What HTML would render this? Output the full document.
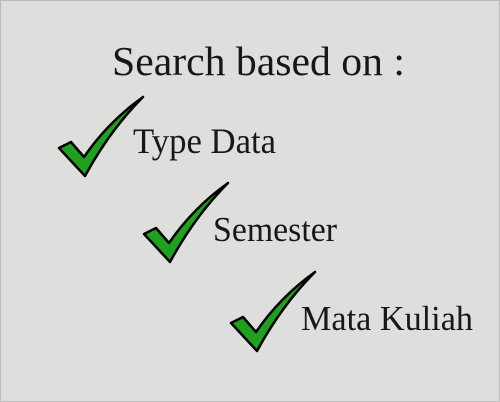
<!DOCTYPE html>
<html><head><style>
body{margin:0;width:500px;height:402px;overflow:hidden;background:#fff}
.bg{position:absolute;left:0;top:0;width:498px;height:400px;background:#dededd;border:1px solid #bbb}
svg{position:absolute;left:0;top:0}
</style></head><body>
<div class="bg"></div>
<svg width="500" height="402" font-family="Liberation Serif, serif" fill="#1a1616">
<defs><path id="c" d="M59,148 L71,142 L84,157 Q108,122 143,97 Q110,130 85,176 Z" fill="#1fa01f" stroke="#000" stroke-width="2.5" stroke-linejoin="round"/></defs>
<use href="#c"/>
<use href="#c" transform="translate(85,86)"/>
<use href="#c" transform="translate(172,175)"/>
<text x="112" y="75" font-size="41" textLength="293" lengthAdjust="spacingAndGlyphs" style="font-family:'Liberation Serif',serif">Search based on :</text>
<text x="133" y="153" font-size="36" textLength="143" lengthAdjust="spacingAndGlyphs" style="font-family:'Liberation Serif',serif">Type Data</text>
<text x="213" y="241" font-size="35" textLength="124" lengthAdjust="spacingAndGlyphs" style="font-family:'Liberation Serif',serif">Semester</text>
<text x="301" y="330" font-size="35" textLength="172" lengthAdjust="spacingAndGlyphs" style="font-family:'Liberation Serif',serif">Mata Kuliah</text>
</svg>
</body></html>
